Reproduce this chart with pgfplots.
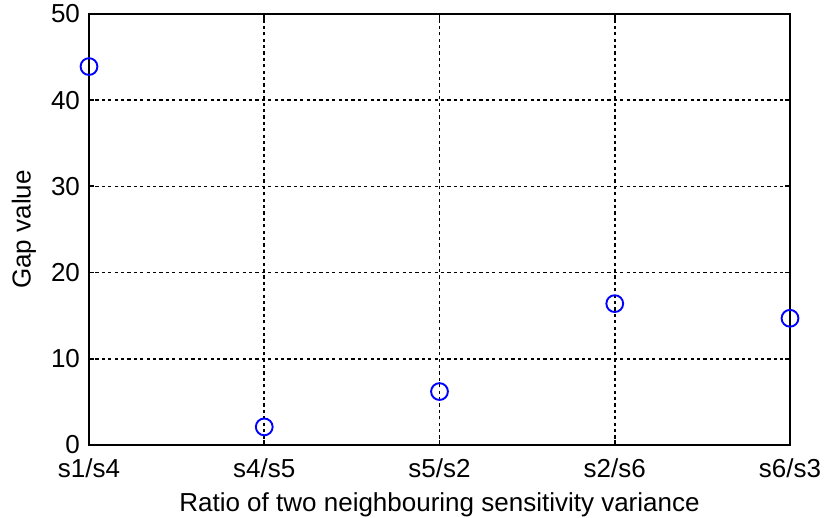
\documentclass[border=0pt]{standalone}
\usepackage{pgfplots}
\pgfplotsset{compat=1.18}
\usepackage{fontspec}
\setmainfont{Liberation Sans}
\begin{document}
\fontsize{13}{15}\selectfont
\begin{tikzpicture}
\begin{axis}[
  scale only axis,
  width=350.5pt, height=215.5pt,
  xmin=0, xmax=4, ymin=0, ymax=50,
  xtick={0,1,2,3,4},
  xticklabels={s1/s4,s4/s5,s5/s2,s2/s6,s6/s3},
  ytick={0,10,20,30,40,50},
  /pgf/number format/assume math mode=true,
  tick label style={font=\fontsize{13}{15}\selectfont},
  label style={font=\fontsize{13}{15}\selectfont},
  xlabel={Ratio of two neighbouring sensitivity variance},
  ylabel={Gap value},
  xlabel style={at={(axis description cs:0.5,0)}, anchor=south, inner sep=0pt, yshift=-36pt},
  ylabel style={at={(axis description cs:-0.0927,0.5)}, anchor=center, inner sep=0pt},
  xticklabel style={yshift=-2.5pt},
  grid=major,
  major grid style={black, line width=0.8pt, dash pattern=on 1.6pt off 1.6pt},
  axis line style={black, line width=1.3pt},
  tick style={black, line width=0.9pt},
  tick align=inside,
  major tick length=2.5pt,
  clip=false,
]
\addplot[only marks, mark=o, blue, mark size=4.2pt, line width=0.95pt] coordinates {
  (0,43.9) (1,2.1) (2,6.2) (3,16.4) (4,14.7)
};
\end{axis}
\pgfresetboundingbox
\path[use as bounding box] ([xshift=-44.5pt,yshift=-36pt]current axis.south west) rectangle ([xshift=18pt,yshift=7pt]current axis.north east);
\end{tikzpicture}
\end{document}
